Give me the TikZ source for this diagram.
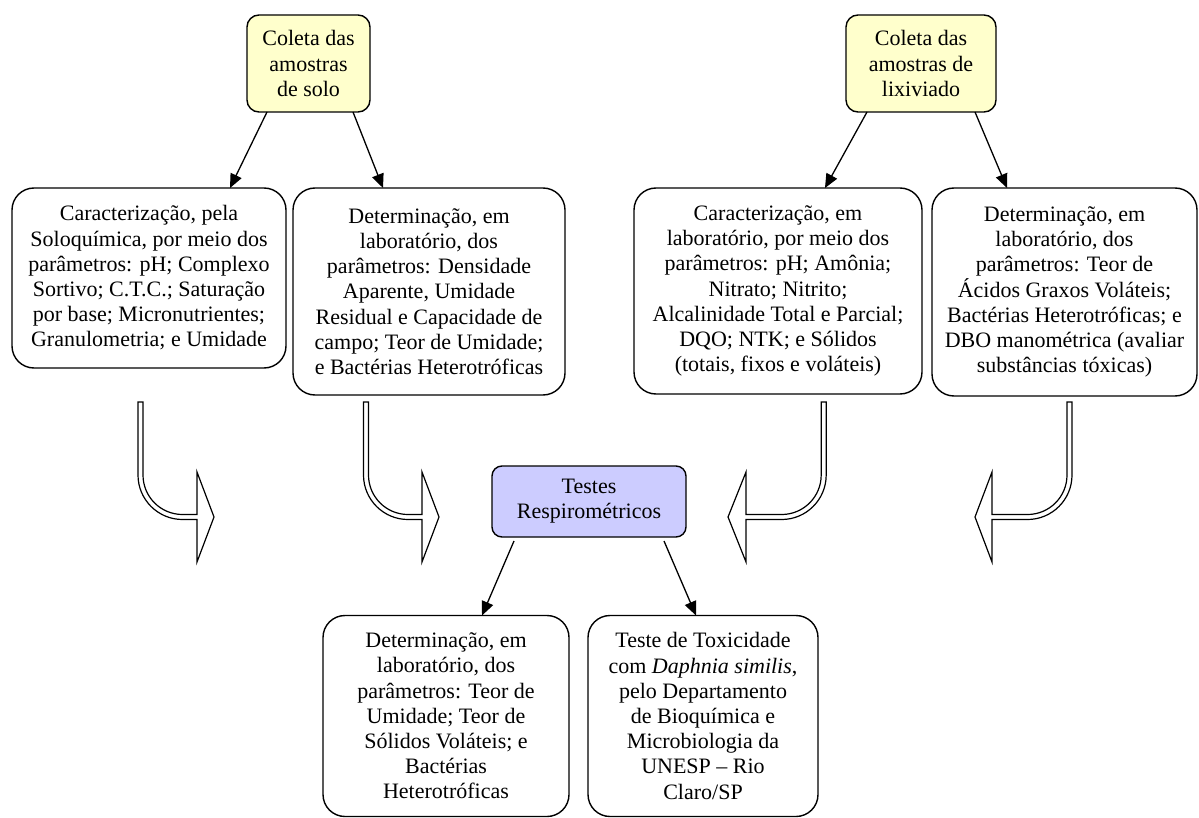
\documentclass[tikz,border=0pt]{standalone}
\usepackage{fontspec}
\setmainfont{Liberation Serif}
\usetikzlibrary{arrows.meta,calc}
\definecolor{boxyellow}{HTML}{FFFFCC}
\definecolor{boxlav}{HTML}{CCCCFF}
% #1 shaft centre x, #2 top y, #3 horizontal centre y, #4 bend radius, #5 head base x, #6 tip x, #7 direction (+1 right, -1 left)
\newcommand{\uarrowpath}[7]{%
  \draw[uarrowstyle] ({#1-(#7)*2.5},#2) -- ({#1-(#7)*2.5},{#3-#4})
    .. controls ({#1-(#7)*2.5},{#3-#4+0.552*(#4+2.5)}) and ({#1+(#7)*#4-(#7)*0.552*(#4+2.5)},{#3+2.5}) .. ({#1+(#7)*#4},{#3+2.5})
    -- (#5,{#3+2.5}) -- (#5,{#3+45}) -- (#6,#3) -- (#5,{#3-45}) -- (#5,{#3-2.5})
    -- ({#1+(#7)*#4},{#3-2.5})
    .. controls ({#1+(#7)*#4-(#7)*0.552*(#4-2.5)},{#3-2.5}) and ({#1+(#7)*2.5},{#3-#4+0.552*(#4-2.5)}) .. ({#1+(#7)*2.5},{#3-#4})
    -- ({#1+(#7)*2.5},#2) -- cycle;}
\tikzset{
  box/.style={draw, line width=1.4pt, rounded corners=22pt, inner sep=0pt, outer sep=0pt,
    align=center, font=\fontsize{22}{25.2}\selectfont},
  topbox/.style={box, rounded corners=12pt, fill=boxyellow},
  midbox/.style={box, rounded corners=10pt, fill=boxlav},
  conn/.style={line width=1.3pt, -{Triangle[length=14pt,width=12pt]}},
  uarrowstyle/.style={line width=1.2pt, fill=white, line join=miter}
}
\begin{document}
\begin{tikzpicture}[x=1pt,y=-1pt]
\useasboundingbox[fill=white] (0,0) rectangle (1199,818);

% top boxes
\node[topbox, minimum width=123pt, minimum height=97pt] (top1) at (308.5,63.5)
  {Coleta das\\amostras\\de solo};
\node[topbox, minimum width=150pt, minimum height=97pt] (top2) at (921,63.5)
  {Coleta das\\amostras de\\lixiviado};

% second row
\node[box, minimum width=274pt, minimum height=180pt] (b1) at (149,278)
  {Caracterização, pela\\Soloquímica, por meio dos\\parâmetros: pH; Complexo\\Sortivo; C.T.C.; Saturação\\por base; Micronutrientes;\\Granulometria; e Umidade};
\node[box, minimum width=272pt, minimum height=207pt] (b2) at (429,291.5)
  {Determinação, em\\laboratório, dos\\parâmetros: Densidade\\Aparente, Umidade\\Residual e Capacidade de\\campo; Teor de Umidade;\\e Bactérias Heterotróficas};
\node[box, minimum width=288pt, minimum height=206pt] (b3) at (778,291)
  {Caracterização, em\\laboratório, por meio dos\\parâmetros: pH; Amônia;\\Nitrato; Nitrito;\\Alcalinidade Total e Parcial;\\DQO; NTK; e Sólidos\\(totais, fixos e voláteis)};
\node[box, minimum width=265pt, minimum height=208pt] (b4) at (1064.5,292)
  {Determinação, em\\laboratório, dos\\parâmetros: Teor de\\Ácidos Graxos Voláteis;\\Bactérias Heterotróficas; e\\DBO manométrica (avaliar\\substâncias tóxicas)};

% centre box
\node[midbox, minimum width=194pt, minimum height=71pt] (testes) at (589,501.5)
  {Testes\\Respirométricos};

% bottom row
\node[box, minimum width=246pt, minimum height=201pt] (c1) at (446,716)
  {Determinação, em\\laboratório, dos\\parâmetros: Teor de\\Umidade; Teor de\\Sólidos Voláteis; e\\Bactérias\\Heterotróficas};
\node[box, minimum width=230pt, minimum height=201pt] (c2) at (703,716)
  {Teste de Toxicidade\\com \textit{Daphnia similis},\\pelo Departamento\\de Bioquímica e\\Microbiologia da\\UNESP -- Rio\\Claro/SP};

% connectors
\draw[conn] ($(top1.south west)+(20,0)$) -- ($(b1.north west)+(218,0)$);
\draw[conn] ($(top1.south east)+(-17,0)$) -- ($(b2.north west)+(90,0)$);
\draw[conn] ($(top2.south west)+(21,0)$) -- ($(b3.north west)+(191,0)$);
\draw[conn] ($(top2.south east)+(-21,0)$) -- ($(b4.north west)+(75,0)$);
\draw[conn] ($(testes.south west)+(22,4)$) -- ($(c1.north west)+(159,0)$);
\draw[conn] ($(testes.south east)+(-22,4)$) -- ($(c2.north west)+(108,0)$);

% curved block arrows
\uarrowpath{140.5}{402}{517}{42}{197}{214}{1}
\uarrowpath{366}{402}{517}{42}{422}{439}{1}
\uarrowpath{823.7}{402}{517}{42}{746}{728}{-1}
\uarrowpath{1069.5}{402}{517}{42}{992}{975}{-1}
\end{tikzpicture}
\end{document}
